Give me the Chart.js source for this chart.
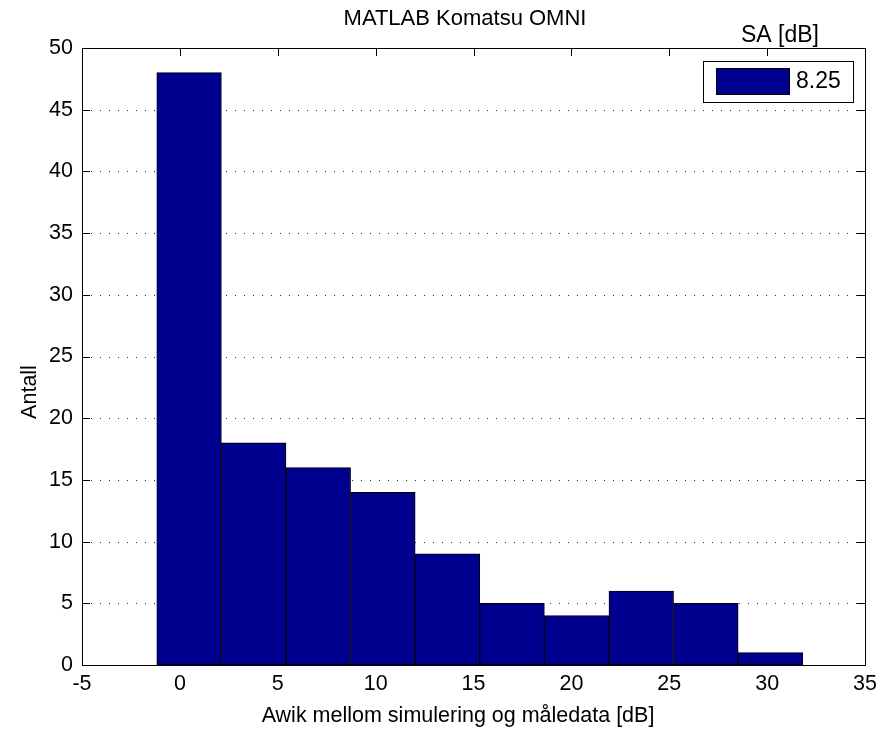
<!DOCTYPE html>
<html>
<head>
<meta charset="utf-8">
<script src="https://cdn.jsdelivr.net/npm/chart.js@4/dist/chart.umd.min.js"></script>
<style>
  html, body { margin: 0; padding: 0; background: #fff; }
  canvas { display: block; }
</style>
</head>
<body>
<canvas id="myChart" width="880" height="731"></canvas>
<script>
// histogram bin centres (dB) and counts
const binCenters = [0.47, 3.77, 7.07, 10.37, 13.67, 16.97, 20.27, 23.57, 26.87, 30.17];
const counts = [48, 18, 16, 14, 9, 5, 4, 6, 5, 1];
const xTicks = [-5, 0, 5, 10, 15, 20, 25, 30, 35];
const yTicks = [0, 5, 10, 15, 20, 25, 30, 35, 40, 45, 50];
const titleText = 'MATLAB Komatsu OMNI';
const xLabel = 'Awik mellom simulering og måledata [dB]';
const yLabel = 'Antall';
const legendTitle = 'SA [dB]';
const legendLabel = '8.25';

const FONT = '"Liberation Sans", Arial, sans-serif';
const barColor = '#00008F';

// MATLAB style box, inside ticks, dotted grid, labels and legend
const matlabAxes = {
  id: 'matlabAxes',
  beforeDatasetsDraw(chart) {
    const ctx = chart.ctx;
    const a = chart.chartArea;
    const xs = chart.scales.x, ys = chart.scales.y;
    ctx.save();
    // dotted horizontal grid
    ctx.strokeStyle = '#333';
    ctx.lineWidth = 1;
    ctx.setLineDash([1, 8]);
    yTicks.forEach(v => {
      if (v === 0 || v === 50) return;
      const y = Math.round(ys.getPixelForValue(v)) + 0.5;
      ctx.beginPath();
      ctx.moveTo(a.left + 9, y);
      ctx.lineTo(a.right - 4, y);
      ctx.stroke();
    });
    ctx.setLineDash([]);
    // inside tick marks
    ctx.strokeStyle = '#000';
    const tl = 8;
    xTicks.forEach(v => {
      const x = Math.round(xs.getPixelForValue(v)) + 0.5;
      ctx.beginPath();
      ctx.moveTo(x, a.bottom); ctx.lineTo(x, a.bottom - tl);
      ctx.moveTo(x, a.top); ctx.lineTo(x, a.top + tl);
      ctx.stroke();
    });
    yTicks.forEach(v => {
      const y = Math.round(ys.getPixelForValue(v)) + 0.5;
      ctx.beginPath();
      ctx.moveTo(a.left, y); ctx.lineTo(a.left + tl, y);
      ctx.moveTo(a.right, y); ctx.lineTo(a.right - tl, y);
      ctx.stroke();
    });
    ctx.restore();
  },
  afterDatasetsDraw(chart) {
    const ctx = chart.ctx;
    const a = chart.chartArea;
    ctx.save();
    ctx.strokeStyle = '#000';
    ctx.lineWidth = 1;
    ctx.strokeRect(a.left + 0.5, a.top + 0.5, a.right - a.left, a.bottom - a.top);

    ctx.fillStyle = '#000';
    ctx.textAlign = 'center';
    ctx.textBaseline = 'middle';
    // title
    ctx.font = '22px ' + FONT;
    ctx.fillText(titleText, 465, 19);
    // axis labels
    ctx.font = '21.5px ' + FONT;
    ctx.fillText(xLabel, 458, 716);
    ctx.save();
    ctx.translate(30, 392);
    ctx.rotate(-Math.PI / 2);
    ctx.fillText(yLabel, 0, 0);
    ctx.restore();

    // legend
    const lx = 703.5, ly = 61.5, lw = 150, lh = 41;
    ctx.fillStyle = '#fff';
    ctx.fillRect(lx, ly, lw, lh);
    ctx.strokeRect(lx, ly, lw, lh);
    ctx.fillStyle = barColor;
    ctx.fillRect(717, 68, 73, 26);
    ctx.strokeRect(716.5, 68.5, 73, 26);
    ctx.fillStyle = '#000';
    ctx.font = '23px ' + FONT;
    ctx.textAlign = 'left';
    ctx.fillText(legendLabel, 796, 82);
    ctx.fillText(legendTitle, 741, 36);
    ctx.restore();
  }
};

const ctx = document.getElementById('myChart').getContext('2d');
const histChart = new Chart(ctx, {
  type: 'bar',
  data: {
    datasets: [{
      label: legendLabel,
      data: binCenters.map((c, i) => ({ x: c, y: counts[i] })),
      backgroundColor: barColor,
      borderColor: '#000',
      borderWidth: 1,
      borderSkipped: false,
      barPercentage: 1,
      categoryPercentage: 1
    }]
  },
  options: {
    responsive: false,
    animation: false,
    devicePixelRatio: 1,
    layout: { padding: { top: 48, right: 15, left: 0, bottom: 0 } },
    plugins: {
      legend: { display: false },
      tooltip: { enabled: false },
      title: { display: false }
    },
    scales: {
      x: {
        type: 'linear',
        offset: false,
        min: -5,
        max: 35,
        afterBuildTicks: s => { s.ticks = xTicks.map(v => ({ value: v })); },
        afterFit: s => { s.height = 66; s.paddingLeft = 0; s.paddingRight = 0; },
        grid: { display: false, drawTicks: false, offset: false },
        border: { display: false },
        ticks: { color: '#000', padding: 6, font: { family: FONT, size: 21.5 }, maxRotation: 0 }
      },
      y: {
        min: 0,
        max: 50,
        afterBuildTicks: s => { s.ticks = yTicks.map(v => ({ value: v })); },
        afterFit: s => { s.width = 82; s.paddingTop = 0; s.paddingBottom = 0; },
        grid: { display: false, drawTicks: false },
        border: { display: false },
        ticks: { color: '#000', padding: 9, font: { family: FONT, size: 21.5 } }
      }
    }
  },
  plugins: [matlabAxes]
});
</script>
</body>
</html>
